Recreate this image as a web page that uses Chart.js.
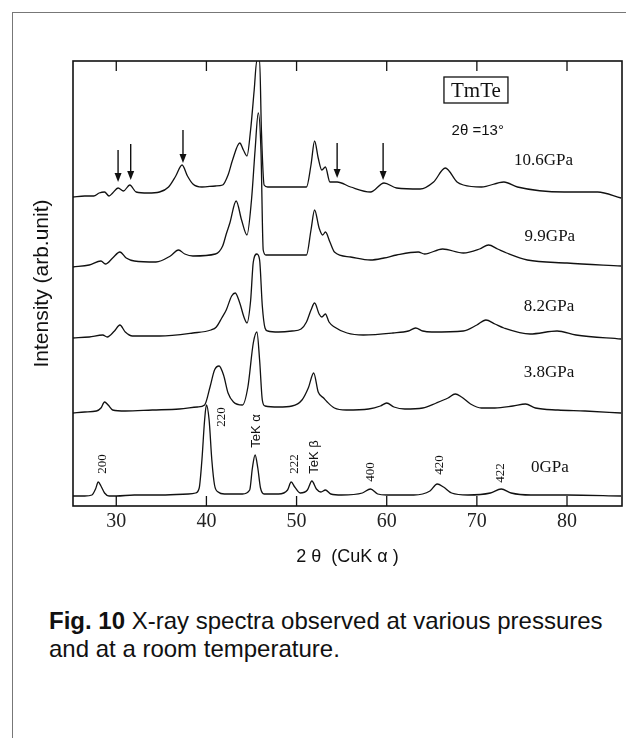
<!DOCTYPE html>
<html lang="en">
<head>
<meta charset="UTF-8">
<title>TmTe X-ray spectra</title>
<script src="https://cdn.jsdelivr.net/npm/chart.js@4.4.0/dist/chart.umd.min.js"></script>
<style>
    body { margin: 0; background: #fff; width: 626px; height: 738px; overflow: hidden; position: relative; }
    #frame { position: absolute; left: 12px; top: 12px; right: 0; bottom: 0; border-left: 1px solid #777; border-top: 1px solid #777; }
    #chart { position: absolute; left: 0; top: 0; }
    #caption { position: absolute; left: 49px; top: 607px; font: 24px "Liberation Sans", Arial, sans-serif; line-height: 28px; color: #111; }
</style>
</head>
<body>
<div id="frame"></div>
<canvas id="chart" width="626" height="580"></canvas>
<div id="caption"><b>Fig. 10</b> X-ray spectra observed at various pressures<br>and at a room temperature.</div>
<script>
// [2theta, intensity], each curve already shifted up by its offset
const spec0 = [[25.2,10],[26.5,10],[27.3,11],[27.7,17],[28.0,24],[28.3,20],[28.7,13],[29.2,10],[30,10],[32,11],[35,11],[38,12],[38.8,13],[39.2,18],[39.5,46],[39.8,86],[40.0,101],[40.3,86],[40.6,46],[40.9,21],[41.3,14],[42,12],[44,12],[44.8,16],[45.1,38],[45.4,51],[45.7,38],[46.0,18],[46.4,12],[48,12],[49.0,16],[49.4,24],[49.8,19],[50.4,13],[51.2,16],[51.7,25],[52.2,17],[52.7,14],[53.2,16],[53.8,12],[55,11],[57.3,13],[58.2,17],[59.0,12],[60,11],[63,11],[64.8,15],[65.6,22],[66.3,19],[67.2,13],[69,11],[71.5,13],[72.7,17],[73.8,13],[76,11],[80,11],[86,10]];
const spec38 = [[25.2,93],[26.5,94],[27.8,95],[28.3,98],[28.7,104],[29.1,101],[29.6,96],[31,95],[34,96],[37,97],[39.0,99],[39.8,101],[40.4,119],[40.9,136],[41.4,140],[41.9,131],[42.4,113],[43.0,104],[44.0,101],[44.6,119],[45.2,163],[45.6,174],[45.9,146],[46.2,106],[46.5,100],[48,99],[49.5,100],[50.6,106],[51.3,118],[51.9,133],[52.4,114],[53.0,108],[53.4,104],[54.2,98],[55.5,96],[58,97],[59.3,100],[60.0,103],[60.8,99],[62,97],[64,98],[65.5,103],[66.8,108],[67.6,112],[68.3,109],[69.3,102],[70.5,98],[72,98],[74,100],[75.4,102],[76.5,98],[79,96],[82,95],[86,93]];
const spec82 = [[25.2,168],[27,169],[28.5,171],[29.0,169],[29.8,175],[30.4,181],[31.0,174],[31.8,170],[34.8,170],[38.5,173],[40.5,176],[41.1,179],[41.7,188],[42.2,196],[42.8,210],[43.2,213],[43.7,203],[44.2,188],[44.5,183],[44.9,205],[45.2,244],[45.6,252],[45.9,246],[46.2,200],[46.5,178],[46.8,175],[48,174],[49.5,175],[50.5,177],[51.1,184],[51.6,196],[52.0,203],[52.5,192],[52.8,189],[53.2,192],[53.6,184],[54.2,179],[55.6,173],[57.4,171],[60.7,173],[62.4,175],[63.2,178],[64.0,175],[65,174],[68.5,175],[70.0,181],[71.0,186],[72.0,182],[73.0,178],[75.9,172],[78.9,175],[81,171],[86,167]];
const spec99 = [[25.2,239],[27,241],[28.3,245],[28.8,242],[29.6,248],[30.4,254],[31.1,248],[32,245],[34.4,244],[36.0,250],[36.9,256],[37.6,252],[38.5,250],[41.0,252],[41.8,260],[42.2,272],[42.6,283],[43.3,305],[43.9,286],[44.5,271],[45.0,306],[45.4,356],[45.75,393],[46.05,356],[46.3,256],[46.6,251],[47.5,251],[51.1,251],[51.6,276],[52.0,296],[52.5,278],[52.9,271],[53.2,274],[53.7,264],[54.2,254],[56.0,249],[58.2,246],[59.7,248],[61.1,251],[63.5,254],[64.2,252],[66.2,257],[68.5,253],[70.3,257],[71.3,261],[72.3,257],[73.3,253],[75.6,246],[80,243],[86,240]];
const spec106 = [[25.2,309],[26.5,310],[27.5,310],[28.1,313],[28.7,314],[29.2,310],[29.6,313],[30.2,318],[30.8,315],[31.5,321],[32.2,314],[33.5,313],[34.8,314],[35.8,319],[36.6,330],[37.3,341],[37.9,330],[38.5,322],[39.5,319],[41.0,320],[41.8,321],[42.4,331],[42.9,346],[43.7,363],[44.1,356],[44.5,350],[44.9,376],[45.3,416],[45.6,446],[45.9,446],[46.1,376],[46.4,321],[46.8,319],[51.1,319],[51.6,341],[52.0,365],[52.4,348],[52.8,336],[53.2,339],[53.7,324],[54.5,324],[56.0,319],[58.2,314],[59.7,323],[61.1,318],[63.7,317],[65.2,324],[66.5,338],[67.8,324],[68.5,321],[70.5,319],[73.0,324],[74.5,319],[79.7,314],[83.4,314],[86,308]];

const pressures = ["0GPa", "3.8GPa", "8.2GPa", "9.9GPa", "10.6GPa"];
const spectra = [spec0, spec38, spec82, spec99, spec106];
const tickValues = [30, 40, 50, 60, 70, 80];

// peak indices and the new lines marked with arrows
const peakNames = ["200", "220", "TeK α", "222", "TeK β", "400", "420", "422"];
const arrowAngles = [30.2, 31.6, 37.4, 54.5, 59.6];

// where the texts and arrows sit, in data units
const peakPos = [[28.5, 42], [41.7, 89], [45.5, 75], [49.8, 42], [52.0, 49], [58.2, 34], [65.9, 41], [72.6, 33]];
const pressPos = [[78.1, 38], [78.0, 133], [78.0, 199], [78.1, 269], [77.4, 345]];
const arrowSpan = [[356, 324], [362, 326], [376, 343], [363, 328], [363, 326]];

const decor = {
    id: 'decor',
    afterDatasetsDraw(chart) {
        const {ctx, chartArea: a, scales: {x, y}} = chart;
        ctx.save();
        ctx.strokeStyle = '#111';
        ctx.fillStyle = '#111';
        ctx.lineWidth = 1.6;
        ctx.strokeRect(a.left, a.top, a.right - a.left, a.bottom - a.top);
        ctx.lineWidth = 1.3;
        x.ticks.forEach(t => {
            const px = x.getPixelForValue(t.value);
            ctx.beginPath();
            ctx.moveTo(px, a.bottom); ctx.lineTo(px, a.bottom - 10);
            ctx.moveTo(px, a.top); ctx.lineTo(px, a.top + 10);
            ctx.stroke();
        });

        // peak labels, rotated
        peakNames.forEach((txt, i) => {
            const px = x.getPixelForValue(peakPos[i][0]);
            const py = y.getPixelForValue(peakPos[i][1]);
            ctx.save();
            ctx.translate(px, py);
            ctx.rotate(-Math.PI / 2);
            ctx.textAlign = 'center';
            ctx.textBaseline = 'middle';
            ctx.font = txt.startsWith('TeK') ? '13px "Liberation Sans"' : '13px "Liberation Serif"';
            ctx.fillText(txt, 0, 0);
            ctx.restore();
        });

        // pressure labels
        ctx.font = '17px "Liberation Serif"';
        ctx.textAlign = 'center';
        ctx.textBaseline = 'middle';
        pressures.forEach((txt, i) => {
            ctx.fillText(txt, x.getPixelForValue(pressPos[i][0]), y.getPixelForValue(pressPos[i][1]));
        });

        // arrows
        arrowAngles.forEach((v, i) => {
            const px = x.getPixelForValue(v);
            const top = y.getPixelForValue(arrowSpan[i][0]);
            const tip = y.getPixelForValue(arrowSpan[i][1]);
            ctx.lineWidth = 1.4;
            ctx.beginPath();
            ctx.moveTo(px, top); ctx.lineTo(px, tip - 6);
            ctx.stroke();
            ctx.beginPath();
            ctx.moveTo(px - 3.5, tip - 9); ctx.lineTo(px + 3.5, tip - 9); ctx.lineTo(px, tip);
            ctx.closePath();
            ctx.fill();
        });

        // sample box and scattering angle
        const bx = x.getPixelForValue(69.9), by = y.getPixelForValue(416);
        ctx.font = '21px "Liberation Serif"';
        ctx.fillText('TmTe', bx, by + 1);
        ctx.lineWidth = 1.3;
        ctx.strokeRect(bx - 32, by - 13, 64, 26);
        ctx.font = '15px "Liberation Sans"';
        ctx.fillText('2θ =13°', x.getPixelForValue(70.1), y.getPixelForValue(375));
        ctx.restore();
    }
};

new Chart("chart", {
    type: "line",
    data: {
        datasets: spectra.map((s, i) => ({
            label: pressures[i],
            data: s.map(p => ({x: p[0], y: p[1]})),
            borderColor: '#111',
            borderWidth: 1.3,
            pointRadius: 0,
            fill: false,
            cubicInterpolationMode: 'monotone'
        }))
    },
    options: {
        responsive: false,
        animation: false,
        layout: { padding: { top: 61, right: 4, left: 0, bottom: 0 } },
        plugins: { legend: { display: false }, tooltip: { enabled: false } },
        scales: {
            x: {
                type: 'linear',
                min: 25.2,
                max: 86.1,
                afterBuildTicks: s => { s.ticks = tickValues.map(v => ({value: v})); },
                afterFit: s => { s.height = 74; },
                ticks: {
                    font: { family: 'Liberation Serif', size: 20 },
                    color: '#222',
                    padding: 4,
                    maxRotation: 0,
                    autoSkip: false,
                    callback: v => String(v)
                },
                grid: { display: false, drawTicks: false },
                border: { display: false },
                title: {
                    display: true,
                    text: '2 θ  (CuK α )',
                    font: { family: 'Liberation Sans', size: 18 },
                    color: '#111',
                    padding: { top: 0, bottom: 12 }
                }
            },
            y: {
                type: 'linear',
                min: 0,
                max: 445,
                afterFit: s => { s.width = 73; },
                ticks: { display: false },
                grid: { display: false, drawTicks: false },
                border: { display: false },
                title: {
                    display: true,
                    text: 'Intensity (arb.unit)',
                    font: { family: 'Liberation Sans', size: 21 },
                    color: '#111',
                    padding: { top: 30, bottom: 0 }
                }
            }
        }
    },
    plugins: [decor]
});
</script>
</body>
</html>
